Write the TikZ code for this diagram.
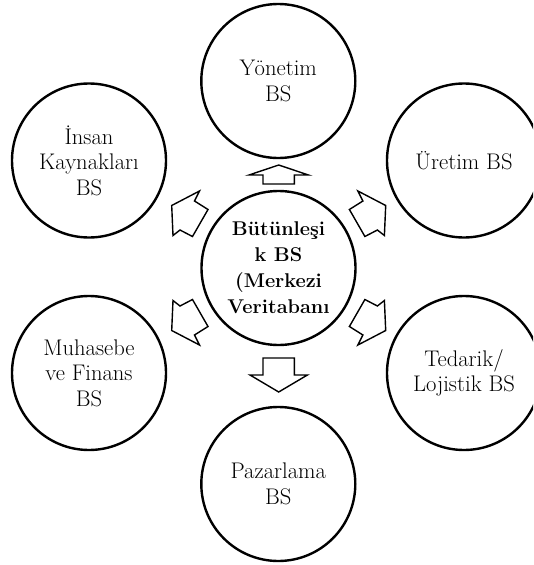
\documentclass[tikz,border=0pt]{standalone}
\usepackage{fontspec}
\begin{document}
\begin{tikzpicture}[x=1pt,y=-1pt,
  bubble/.style={draw, circle, line width=2.4pt, minimum size=154pt, inner sep=0pt, align=center,
    font=\fontsize{22.6}{25.5}\selectfont},
  hub/.style={bubble, font=\bfseries\fontsize{19.9}{26}\selectfont},
  blockarrow/.style={draw, line width=1.4pt, line join=miter}]
\useasboundingbox (0,0) rectangle (533,565);
\clip (0,0) rectangle (533,565);
% circles
\node[hub] (hub) at (278.5,268) {Bütünleşi\\k BS\\(Merkezi\\Veritabanı};
\node[bubble] (yon) at (278.3,81) {Yönetim\\BS};
\node[bubble] (ik) at (89,160.5) {İnsan\\Kaynakları\\BS};
\node[bubble] (ure) at (464,160.5) {Üretim BS};
\node[bubble] (muh) at (89,373) {Muhasebe\\ve Finans\\BS};
\node[bubble] (ted) at (464,373) {Tedarik/\\Lojistik BS};
\node[bubble] (paz) at (278.3,484) {Pazarlama\\BS};
% block arrows
\draw[blockarrow] (278.7,165) -- (308.4,175) -- (294.4,175) -- (294.4,184) -- (263,184) -- (263,175) -- (249,175) -- cycle;
\draw[blockarrow] (278.7,392) -- (307.4,375) -- (294.4,375) -- (294.4,358) -- (263,358) -- (263,375) -- (250,375) -- cycle;
% upper-left
\draw[blockarrow] (171.7,205.5) -- (199.5,191) -- (194.5,201) -- (208,209.5) -- (192.5,236.5) -- (180,230) -- (173,235.5) -- cycle;
% upper-right (mirror x' = 557.4 - x)
\draw[blockarrow] (385.7,205.5) -- (357.9,191) -- (362.9,201) -- (349.4,209.5) -- (364.9,236.5) -- (377.4,230) -- (384.4,235.5) -- cycle;
% lower-left (mirror y' = 536 - y)
\draw[blockarrow] (171.7,330.5) -- (199.5,345) -- (194.5,335) -- (208,326.5) -- (192.5,299.5) -- (180,306) -- (173,300.5) -- cycle;
% lower-right
\draw[blockarrow] (385.7,330.5) -- (357.9,345) -- (362.9,335) -- (349.4,326.5) -- (364.9,299.5) -- (377.4,306) -- (384.4,300.5) -- cycle;
\end{tikzpicture}
\end{document}
